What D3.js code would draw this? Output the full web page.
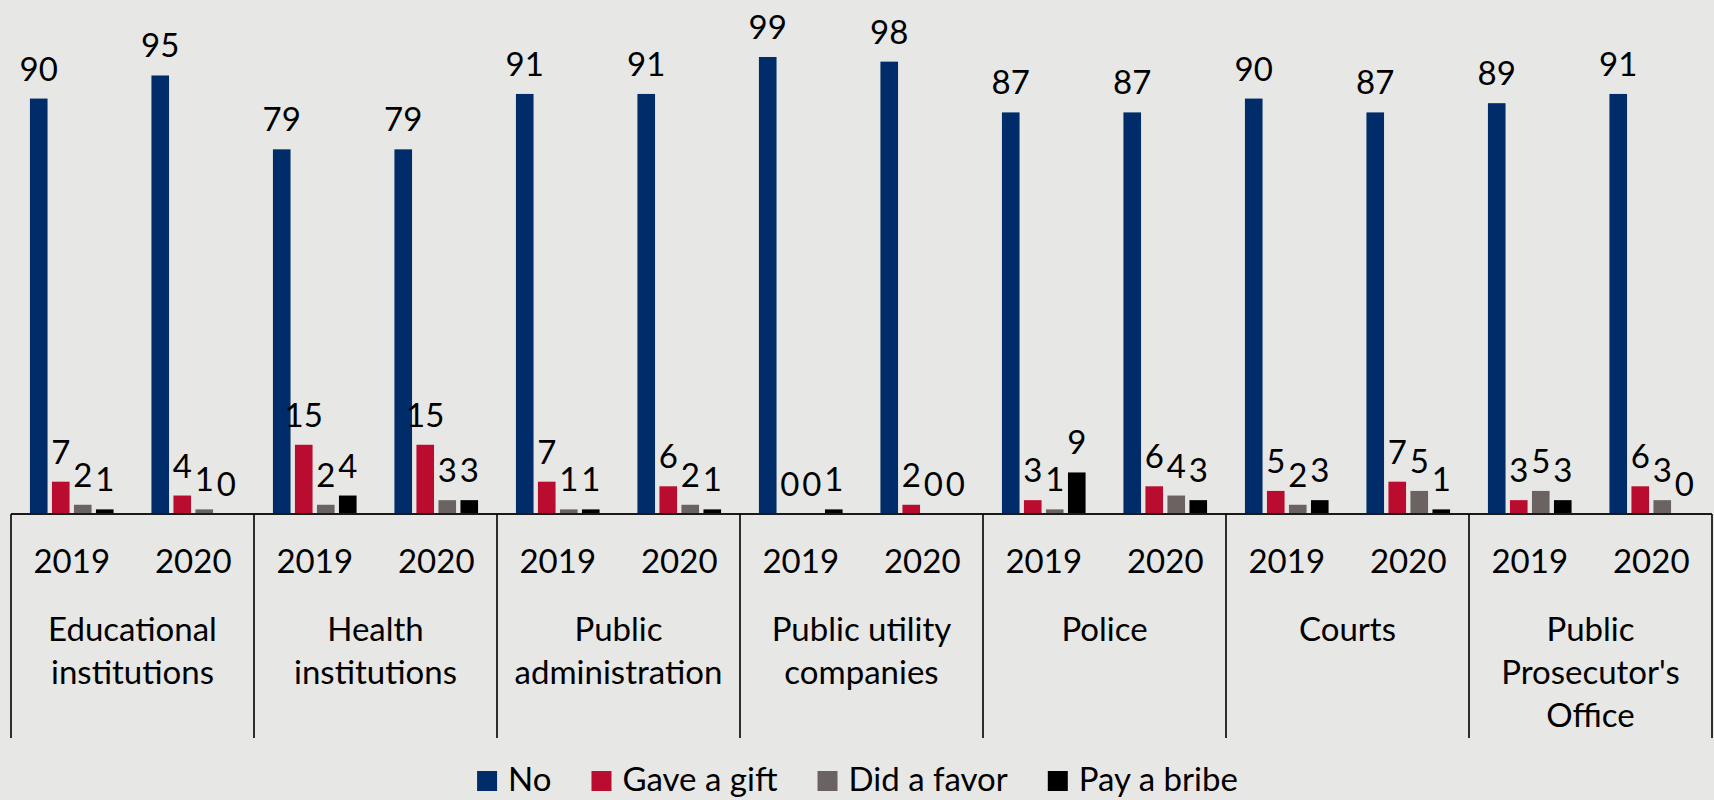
<!DOCTYPE html>
<html>
<head>
<meta charset="utf-8">
<script src="https://cdn.jsdelivr.net/npm/d3@7"></script>
<style>
  body { margin: 0; background: #e7e7e5; }
  svg { display: block; font-family: Lato, "Open Sans", sans-serif; }
</style>
</head>
<body>
<div id="chart"></div>
<script>
// data
var categories = [
    ["Educational", "institutions"],
    ["Health", "institutions"],
    ["Public", "administration"],
    ["Public utility", "companies"],
    ["Police"],
    ["Courts"],
    ["Public", "Prosecutor's", "Office"]
];
var years = ["2019", "2020"];
var seriesNames = ["No", "Gave a gift", "Did a favor", "Pay a bribe"];
var seriesColors = ["#002d6a", "#ba0c2f", "#6b6361", "#000000"];

// one value per category/year pair, in order
var noValues    = [90, 95, 79, 79, 91, 91, 99, 98, 87, 87, 90, 87, 89, 91];
var giftValues  = [7, 4, 15, 15, 7, 6, 0, 2, 3, 6, 5, 7, 3, 6];
var favorValues = [2, 1, 2, 3, 1, 2, 0, 0, 1, 4, 2, 5, 5, 3];
var bribeValues = [1, 0, 4, 3, 1, 1, 1, 0, 9, 3, 3, 1, 3, 0];

var svgWidth = 1714;
var svgHeight = 800;

var svg = d3.select("#chart")
    .append("svg")
    .attr("width", svgWidth)
    .attr("height", svgHeight);

svg.append("rect")
    .attr("width", svgWidth)
    .attr("height", svgHeight)
    .attr("fill", "#e7e7e5");

var axisY = 514;
var xLeft = 11, xRight = 1712;

var xGroup = d3.scaleBand()
    .domain(d3.range(categories.length))
    .range([xLeft, xRight])
    .padding(0);

var xYear = d3.scaleBand()
    .domain(years)
    .range([0, xGroup.bandwidth()])
    .padding(0);

var xSeries = d3.scaleBand()
    .domain(seriesNames)
    .range([0, xYear.bandwidth()])
    .paddingInner(0.2)
    .paddingOuter(0.86);

var yScale = d3.scaleLinear()
    .domain([0, 100])
    .range([axisY, axisY - 461.6]);

// flatten into rows
var allSeries = [noValues, giftValues, favorValues, bribeValues];
var rows = [];
categories.forEach((cat, ci) => {
    years.forEach((yr, yi) => {
        allSeries.forEach((vals, si) => {
            rows.push({
                cat: ci,
                year: yr,
                series: seriesNames[si],
                color: seriesColors[si],
                value: vals[ci * 2 + yi]
            });
        });
    });
});

var xPos = d => xGroup(d.cat) + xYear(d.year) + xSeries(d.series);

var chartGroup = svg.append("g");

chartGroup.selectAll("rect.bar")
    .data(rows)
    .enter()
    .append("rect")
    .attr("class", "bar")
    .attr("x", xPos)
    .attr("width", xSeries.bandwidth())
    .attr("y", d => yScale(d.value))
    .attr("height", d => axisY - yScale(d.value))
    .attr("fill", d => d.color);

// value labels
chartGroup.selectAll("text.val")
    .data(rows)
    .enter()
    .append("text")
    .attr("class", "val")
    .attr("x", d => xPos(d) + xSeries.bandwidth() / 2)
    .attr("y", d => yScale(d.value) - 18)
    .attr("text-anchor", "middle")
    .attr("font-size", 33)
    .attr("fill", "#000")
    .text(d => d.value);

// axis line and group separators
svg.append("line")
    .attr("x1", xLeft).attr("x2", xRight)
    .attr("y1", axisY).attr("y2", axisY)
    .attr("stroke", "#1a1a1a")
    .attr("stroke-width", 2);

var sepBottom = 738;
svg.selectAll("line.sep")
    .data(d3.range(categories.length + 1))
    .enter()
    .append("line")
    .attr("class", "sep")
    .attr("x1", i => i < categories.length ? xGroup(i) : xRight)
    .attr("x2", i => i < categories.length ? xGroup(i) : xRight)
    .attr("y1", axisY)
    .attr("y2", sepBottom)
    .attr("stroke", "#000")
    .attr("stroke-width", 1.6);

// year tick labels
categories.forEach((cat, ci) => {
    years.forEach(yr => {
        svg.append("text")
            .attr("x", xGroup(ci) + xYear(yr) + xYear.bandwidth() / 2)
            .attr("y", 573)
            .attr("text-anchor", "middle")
            .attr("font-size", 33)
            .text(yr);
    });
    // category labels, one line each
    cat.forEach((line, li) => {
        svg.append("text")
            .attr("x", xGroup(ci) + xGroup.bandwidth() / 2)
            .attr("y", 641 + li * 43)
            .attr("text-anchor", "middle")
            .attr("font-size", 33)
            .text(line);
    });
});

// legend
var legend = svg.append("g");
var lx = 0;
seriesNames.forEach((name, i) => {
    var item = legend.append("g").attr("transform", `translate(${lx},0)`);
    item.append("rect")
        .attr("x", 0).attr("y", 771)
        .attr("width", 20).attr("height", 20)
        .attr("fill", seriesColors[i]);
    var t = item.append("text")
        .attr("x", 31).attr("y", 791)
        .attr("font-size", 33)
        .text(name);
    lx += 31 + t.node().getComputedTextLength() + 40;
});
var legendWidth = lx - 40;
legend.attr("transform", `translate(${(xLeft + xRight) / 2 - legendWidth / 2 - 4},0)`);
</script>
</body>
</html>
